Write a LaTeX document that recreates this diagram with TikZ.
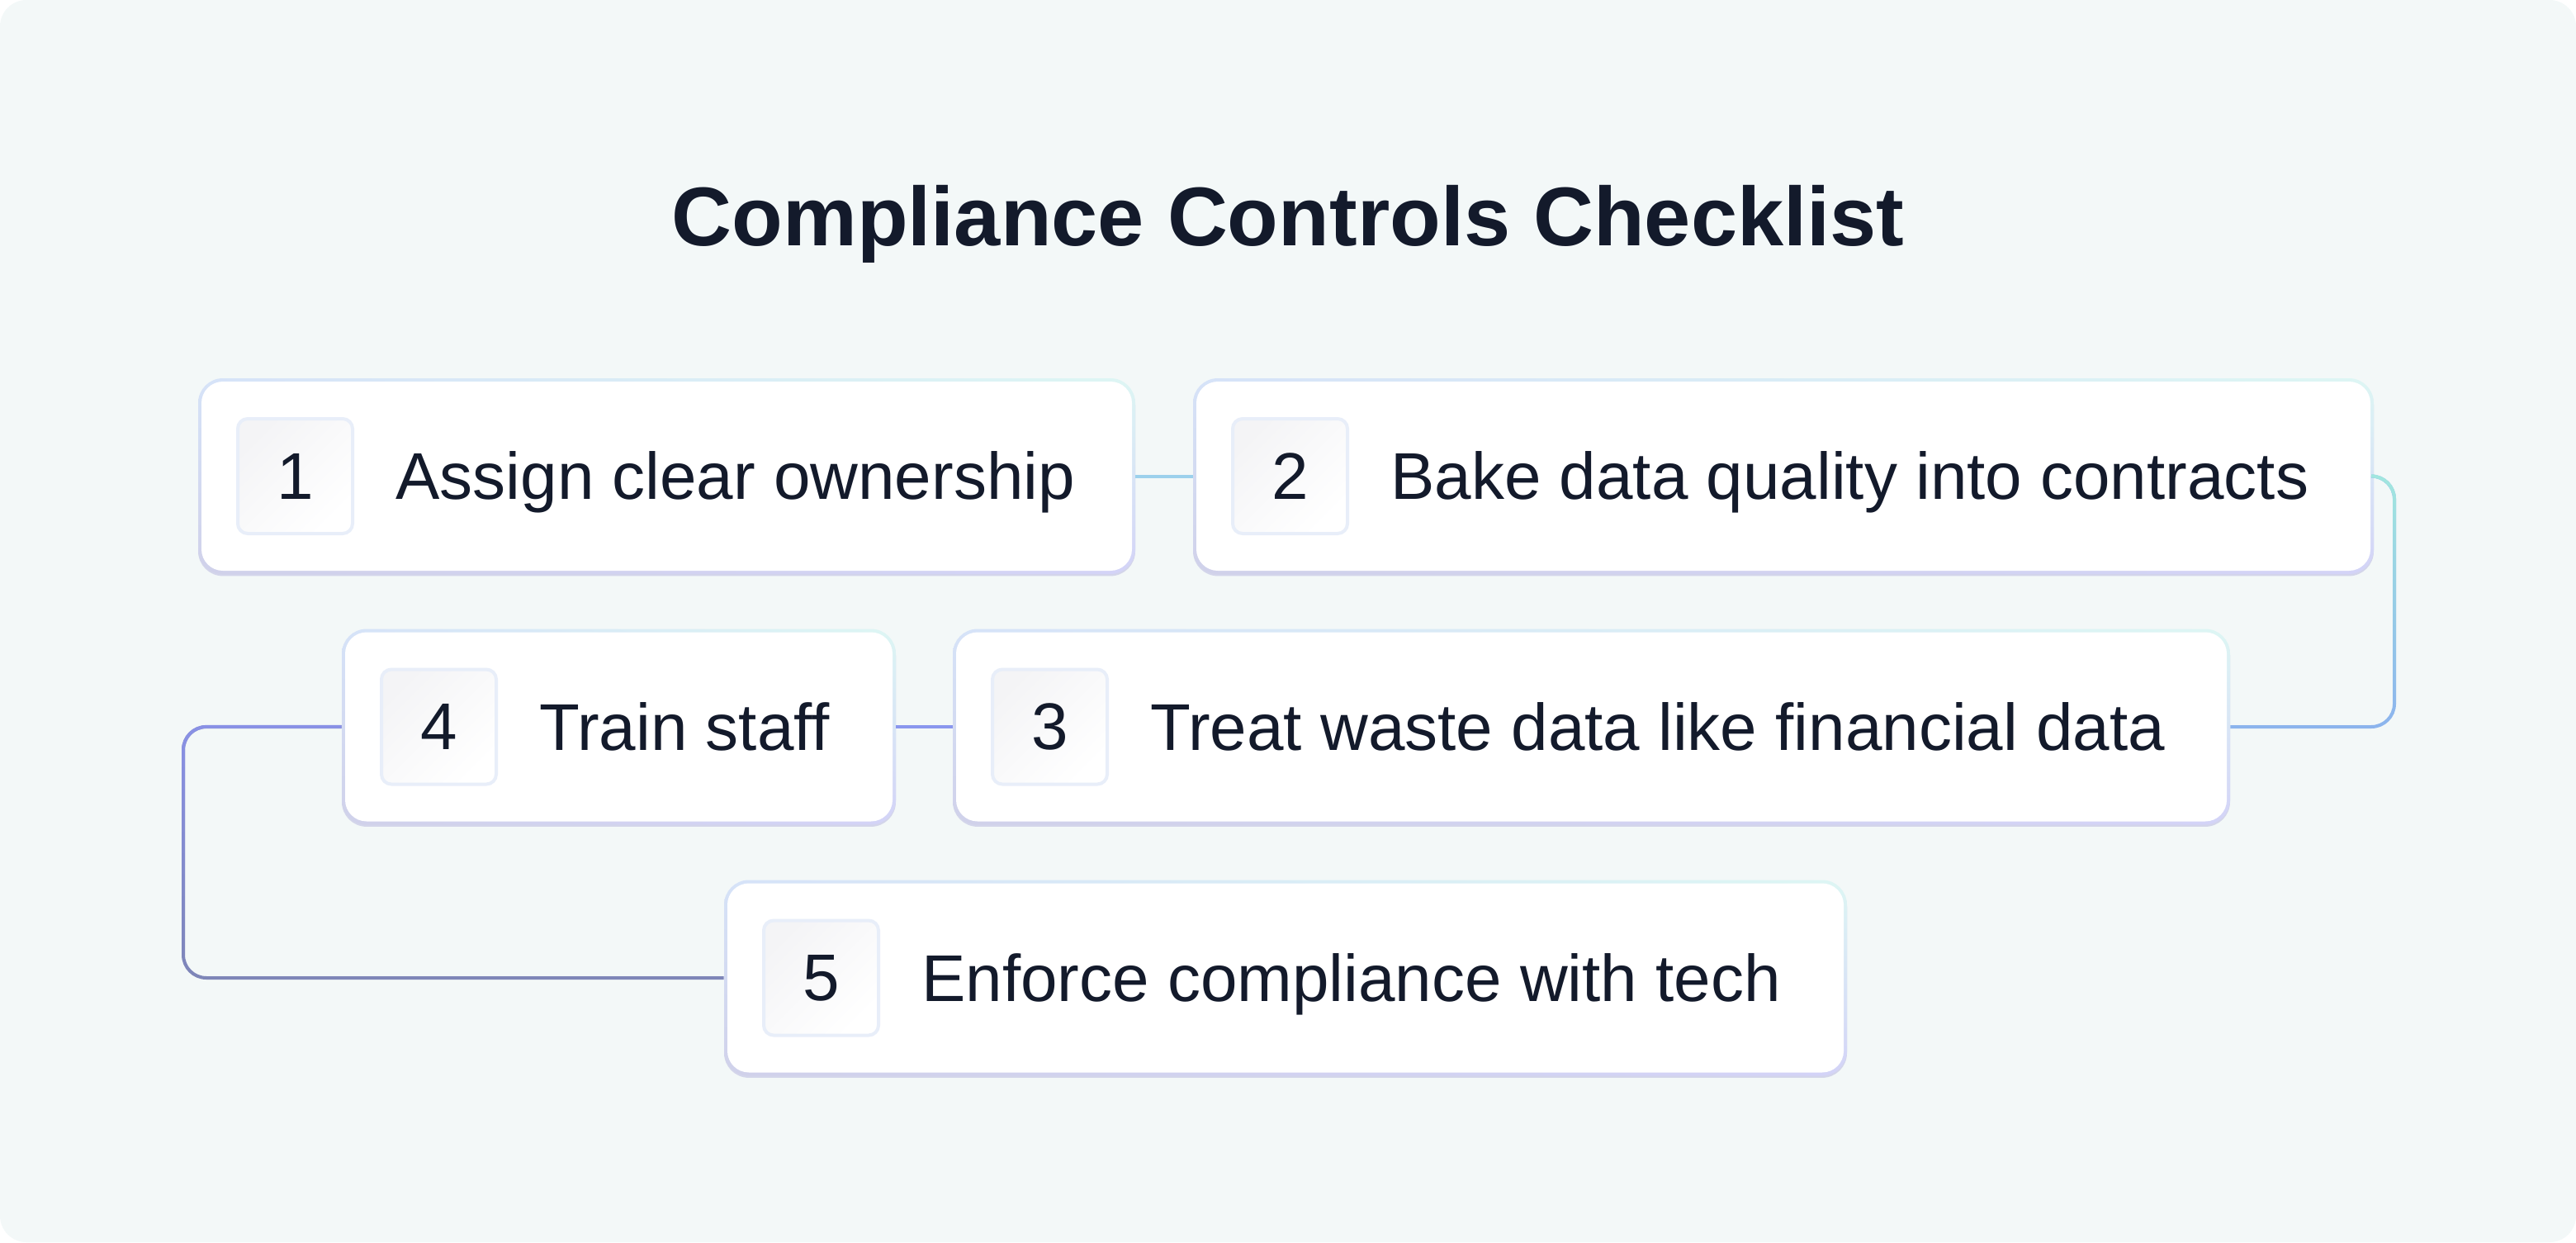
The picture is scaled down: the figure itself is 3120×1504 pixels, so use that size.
\documentclass[tikz,border=0pt]{standalone}
\usepackage{fontspec}
\setmainfont{Liberation Sans}
\usetikzlibrary{fadings,shadings}
\definecolor{bgc}{HTML}{F3F8F8}
\definecolor{ink}{HTML}{131A2B}
\definecolor{cA}{HTML}{9CD1EC}
\definecolor{cBtop}{HTML}{A2E7DF}
\definecolor{cBbot}{HTML}{8CB4EE}
\definecolor{cC}{HTML}{8A97EE}
\definecolor{cDtop}{HTML}{8A92E6}
\definecolor{cDbot}{HTML}{7E86B8}
\definecolor{bUL}{HTML}{D6E3F8}
\definecolor{bUR}{HTML}{DDF6F4}
\definecolor{bLL}{HTML}{D0D1EA}
\definecolor{bLR}{HTML}{D3D3F7}
\definecolor{shadowc}{HTML}{D3D5EA}
\definecolor{numborder}{HTML}{E8EEF9}
\definecolor{numfill}{HTML}{F4F4F6}
\tikzfading[name=fadedown, top color=transparent!0, bottom color=transparent!100]
\tikzset{
  card/.style={minimum height=118.5pt, inner sep=0pt, rounded corners=15pt,
    preaction={fill=shadowc, path picture={}, transform canvas={yshift=-1.2pt}},
    path picture={
      \shade[upper left=bUL, upper right=bUR, lower left=bLL, lower right=bLR]
        (path picture bounding box.south west) rectangle (path picture bounding box.north east);
      \fill[white, rounded corners=13pt]
        ([shift={(2pt,2pt)}]path picture bounding box.south west) rectangle
        ([shift={(-2pt,-2pt)}]path picture bounding box.north east);
    }},
  numbox/.style={minimum size=69.5pt, inner sep=0pt, rounded corners=6pt,
    draw=numborder, line width=2pt, top color=numfill, bottom color=white,
    shading angle=45, font=\fontsize{40}{48}\selectfont, text=ink},
  itemtext/.style={anchor=base west, inner sep=0pt,
    font=\fontsize{40}{48}\selectfont, text=ink},
  titletext/.style={anchor=base, inner sep=0pt,
    font=\fontsize{50.5}{60}\selectfont\bfseries, text=ink},
  conn/.style={line width=2pt, rounded corners=14pt}
}
\begin{document}
\begin{tikzpicture}[x=0.5pt, y=-0.5pt]
\useasboundingbox (0,0) rectangle (3120,1504);
\fill[bgc, rounded corners=16pt] (0,0) rectangle (3120,1504);

\node[titletext] (title) at (1560,297) {Compliance Controls Checklist};

% cards
\node[card, minimum width=567.5pt] (b1) at (807.5,576.5) {};
\node[card, minimum width=715pt]   (b2) at (2160,576.5) {};
\node[card, minimum width=773.5pt] (b3) at (1927.5,880) {};
\node[card, minimum width=335.5pt] (b4) at (749.5,880) {};
\node[card, minimum width=680pt]   (b5) at (1557,1184) {};

% number boxes
\node[numbox] (n1) at (357.5,576.5) {1};
\node[numbox] (n2) at (1562.5,576.5) {2};
\node[numbox] (n3) at (1271.5,880) {3};
\node[numbox] (n4) at (531.5,880) {4};
\node[numbox] (n5) at (994.5,1184) {5};

% texts
\node[itemtext] (t1) at (479,604.5) {Assign clear ownership};
\node[itemtext] (t2) at (1684,604.5) {Bake data quality into contracts};
\node[itemtext] (t3) at (1393,908) {Treat waste data like financial data};
\node[itemtext] (t4) at (653,908) {Train staff};
\node[itemtext] (t5) at (1116,1212) {Enforce compliance with tech};

% connectors
\coordinate (rc) at (2900,728);
\coordinate (lc) at (222,1032);
\draw[conn, cA] (b1.east) -- (b2.west);
\draw[conn, cBbot] (b2.east) -| (rc) |- (b3.east);
\draw[conn, cBtop, path fading=fadedown] (b2.east) -| (rc) |- (b3.east);
\draw[conn, cC] (b3.west) -- (b4.east);
\draw[conn, cDbot] (b4.west) -| (lc) |- (b5.west);
\draw[conn, cDtop, path fading=fadedown] (b4.west) -| (lc) |- (b5.west);
\end{tikzpicture}
\end{document}
